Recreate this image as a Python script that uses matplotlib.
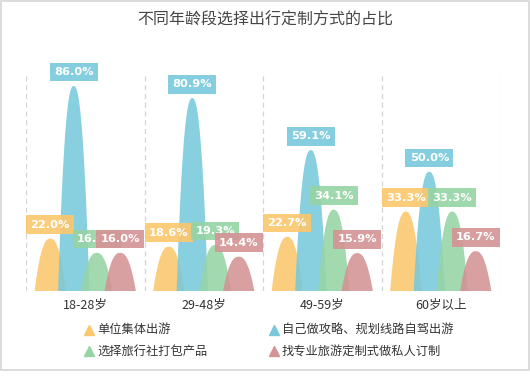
import numpy as np
import matplotlib
matplotlib.use("Agg")
import matplotlib.pyplot as plt
from matplotlib.patches import Rectangle, Polygon
from matplotlib.lines import Line2D

plt.rcParams['font.family'] = ['Noto Sans CJK SC', 'DejaVu Sans']

title = "不同年龄段选择出行定制方式的占比"
categories = ["18-28岁", "29-48岁", "49-59岁", "60岁以上"]
series_names = ["单位集体出游", "自己做攻略、规划线路自驾出游", "选择旅行社打包产品", "找专业旅游定制式做私人订制"]
group_self = [22.0, 18.6, 22.7, 33.3]
self_drive = [86.0, 80.9, 59.1, 50.0]
agency = [16.0, 19.3, 34.1, 33.3]
custom = [16.0, 14.4, 15.9, 16.7]
series_values = [group_self, self_drive, agency, custom]
colors = ["#fbc76c", "#78c9dc", "#96d4a4", "#d49394"]

W, H = 530, 380
fig = plt.figure(figsize=(W / 100, H / 100), dpi=100)
ax = fig.add_axes([26 / W, 1 - 291 / H, (500 - 26) / W, (291 - 75) / H])
ax.set_xlim(-0.5, len(categories) - 0.5)
ax.set_ylim(0, 90.6)

offsets = [-0.295, -0.097, 0.097, 0.295]
half_w = 0.132
u = np.linspace(-1, 1, 121)
profile = 1 - np.abs(u) ** 2.4

for s, (vals, col) in enumerate(zip(series_values, colors)):
    for i, v in enumerate(vals):
        cx = i + offsets[s]
        xs = cx + u * half_w
        ys = v * profile
        poly = Polygon(np.column_stack([xs, ys]), closed=True, facecolor=col,
                       edgecolor='none', alpha=0.88, zorder=2 + s)
        ax.add_patch(poly)

for s, (vals, col) in enumerate(zip(series_values, colors)):
    for i, v in enumerate(vals):
        cx = i + offsets[s]
        ax.annotate(f"{v:.1f}%", xy=(cx, v), xytext=(0, 10), textcoords='offset points',
                    ha='center', va='center', color='white', fontsize=8.2, fontweight='bold',
                    family=['DejaVu Sans'],
                    bbox=dict(boxstyle='square,pad=0.38', facecolor=col, edgecolor='none', alpha=0.9),
                    zorder=10 + s, annotation_clip=False)

for b in np.arange(-0.5, len(categories), 1.0):
    ax.axvline(b, color='#d4d4d4', lw=0.9, ls=(0, (4, 3)), zorder=1)

ax.set_xticks(range(len(categories)))
ax.set_xticklabels(categories, fontsize=9, color='#333333')
ax.tick_params(axis='x', length=0, pad=5.5)
ax.set_yticks([])
for sp in ax.spines.values():
    sp.set_visible(False)

fig.text(265 / W, 1 - 20 / H, title, ha='center', va='center', fontsize=11.5, color='#464646')

legend_pos = [(89, 330), (274, 330), (89, 351), (274, 351)]
for (lx, ly), name, col in zip(legend_pos, series_names, colors):
    fig.add_artist(Line2D([lx / W], [1 - ly / H], marker='^', markersize=6.5, color=col,
                          linestyle='none', transform=fig.transFigure))
    fig.text((lx + 8) / W, 1 - ly / H, name, ha='left', va='center', fontsize=8.8, color='#333333')

fig.add_artist(Rectangle((1 / W, 10 / H), 528 / W, 369 / H, transform=fig.transFigure,
                         fill=False, edgecolor='#d6d6d6', lw=1.2))

fig.savefig("out.png", dpi=100)
